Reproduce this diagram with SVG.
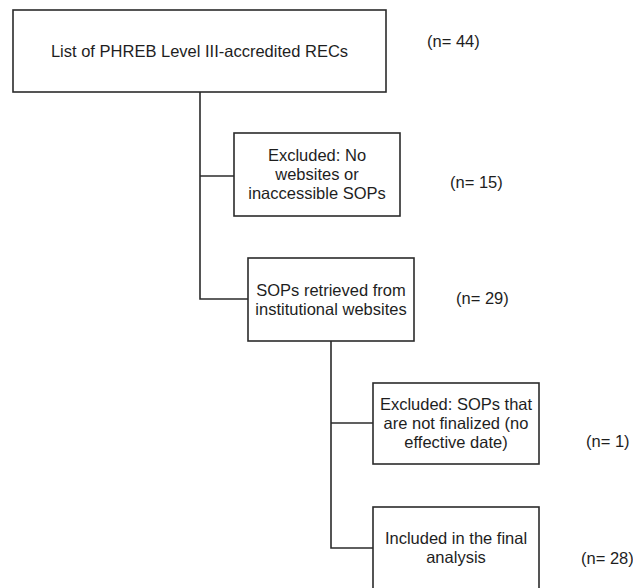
<svg xmlns="http://www.w3.org/2000/svg" width="633" height="588" viewBox="0 0 633 588">
<style>
.box{fill:#fff;stroke:#2b2b2b;stroke-width:1.6}
.t{font-family:"Liberation Sans",Arial,Helvetica,sans-serif;font-size:16.5px;fill:#1e1e1e;text-anchor:middle}
.n{font-family:"Liberation Sans",Arial,Helvetica,sans-serif;font-size:16.5px;fill:#1e1e1e}
.c{fill:none;stroke:#2b2b2b;stroke-width:1.6}
</style>
<rect width="633" height="588" fill="#fff"/>
<g id="connectors">
<polyline class="c" points="200,92 200,299 248,299"/>
<line class="c" x1="200" y1="176" x2="234" y2="176"/>
<polyline class="c" points="331,341 331,548 373,548"/>
<line class="c" x1="331" y1="423" x2="373" y2="423"/>
</g>
<g id="node-list">
<rect class="box" x="13" y="10" width="373" height="82"/>
<text class="t" x="199.5" y="57">List of PHREB Level III-accredited RECs</text>
</g>
<g id="node-excluded1">
<rect class="box" x="234" y="133" width="166" height="83"/>
<text class="t" x="317" y="161">Excluded: No</text>
<text class="t" x="317" y="180">websites or</text>
<text class="t" x="317" y="199">inaccessible SOPs</text>
</g>
<g id="node-retrieved">
<rect class="box" x="248" y="258" width="166" height="83"/>
<text class="t" x="331" y="295.5">SOPs retrieved from</text>
<text class="t" x="331" y="314.5">institutional websites</text>
</g>
<g id="node-excluded2">
<rect class="box" x="373" y="383" width="166" height="81"/>
<text class="t" x="456" y="409.5">Excluded: SOPs that</text>
<text class="t" x="456" y="428.5">are not finalized (no</text>
<text class="t" x="456" y="447.5">effective date)</text>
</g>
<g id="node-included">
<rect class="box" x="373" y="507" width="166" height="82"/>
<text class="t" x="456" y="543.5">Included in the final</text>
<text class="t" x="456" y="562.5">analysis</text>
</g>
<g id="counts">
<text class="n" x="427" y="47">(n= 44)</text>
<text class="n" x="450" y="188">(n= 15)</text>
<text class="n" x="456" y="304">(n= 29)</text>
<text class="n" x="586" y="447">(n= 1)</text>
<text class="n" x="581" y="564">(n= 28)</text>
</g>
</svg>
